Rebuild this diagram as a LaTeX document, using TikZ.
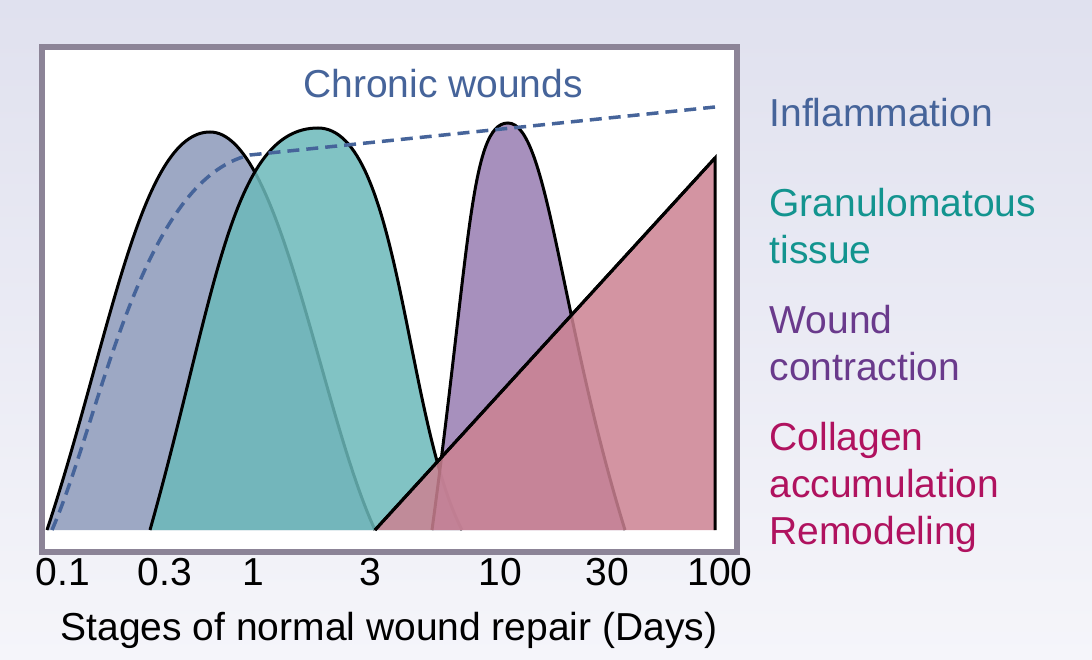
\documentclass[tikz,border=0pt]{standalone}
\usepackage{fontspec}
\setmainfont{Liberation Sans}
\definecolor{bgtop}{HTML}{DFE0EE}
\definecolor{bgbot}{HTML}{F5F5FA}
\definecolor{framec}{HTML}{8C8497}
\definecolor{inflc}{RGB}{140,153,186}
\definecolor{granc}{RGB}{108,185,186}
\definecolor{contc}{RGB}{152,125,178}
\definecolor{collc}{RGB}{204,130,146}
\definecolor{inflt}{HTML}{46649A}
\definecolor{grant}{HTML}{13948F}
\definecolor{contt}{HTML}{6A3A8C}
\definecolor{collt}{HTML}{B0125F}
\tikzset{
  phase/.style={line width=3pt, draw=black, fill opacity=0.85},
  lbl/.style={font=\fontsize{39}{47}\selectfont, anchor=west, align=left},
  tick/.style={font=\fontsize{39}{44}\selectfont},
}
\begin{document}
\begin{tikzpicture}[x=1pt, y=-1pt]
  \useasboundingbox (0,0) rectangle (1092,660);
  % Hintergrund
  \shade[top color=bgtop, bottom color=bgbot]
    (0,0) -- (1062,0) arc[start angle=90, end angle=0, radius=30] -- (1092,660) -- (0,660) -- cycle;
  \fill[white] (42,47) rectangle (737,552);

  % Phasen
  \draw[phase, fill=inflc] (47,530) .. controls (110,340) and (140,132) .. (210,132)
    .. controls (280,132) and (320,410) .. (375,530);
  \draw[phase, fill=granc] (150,530) .. controls (215,300) and (230,128) .. (318,128)
    .. controls (400,128) and (405,420) .. (462,530);
  \draw[phase, fill=contc] (432,530) .. controls (470,250) and (470,123) .. (508,123)
    .. controls (548,123) and (560,320) .. (625,530);
  \draw[phase, fill=collc] (375,530) -- (715,158) -- (715,530);
  \draw[line width=3pt] (375,530) -- (715,158);

  % Chronische Wunden
  \draw[inflt, line width=3.5pt, dash pattern=on 12pt off 7pt]
    (52,530) .. controls (100,420) and (140,180) .. (250,155) -- (715,107);
  \node[lbl, inflt, anchor=center] (chronic) at (443,84) {Chronic wounds};

  % Rahmen
  \draw[framec, line width=6pt] (42,47) rectangle (737,552);

  % Legende
  \node[lbl, inflt] (infl) at (766,113) {Inflammation};
  \node[lbl, grant] (gran) at (766,226) {Granulomatous\\tissue};
  \node[lbl, contt] (cont) at (766,343) {Wound\\contraction};
  \node[lbl, collt] (coll) at (766,487) {Collagen\\accumulation\\Remodeling};

  % Achse
  \foreach \x/\t in {63/0.1, 165/0.3, 253/1, 370/3, 500/10, 607/30, 720/100}
    \node[tick] (t\t) at (\x,572) {\t};
  \node[tick] (axis) at (389,630) {Stages of normal wound repair (Days)};
\end{tikzpicture}
\end{document}
